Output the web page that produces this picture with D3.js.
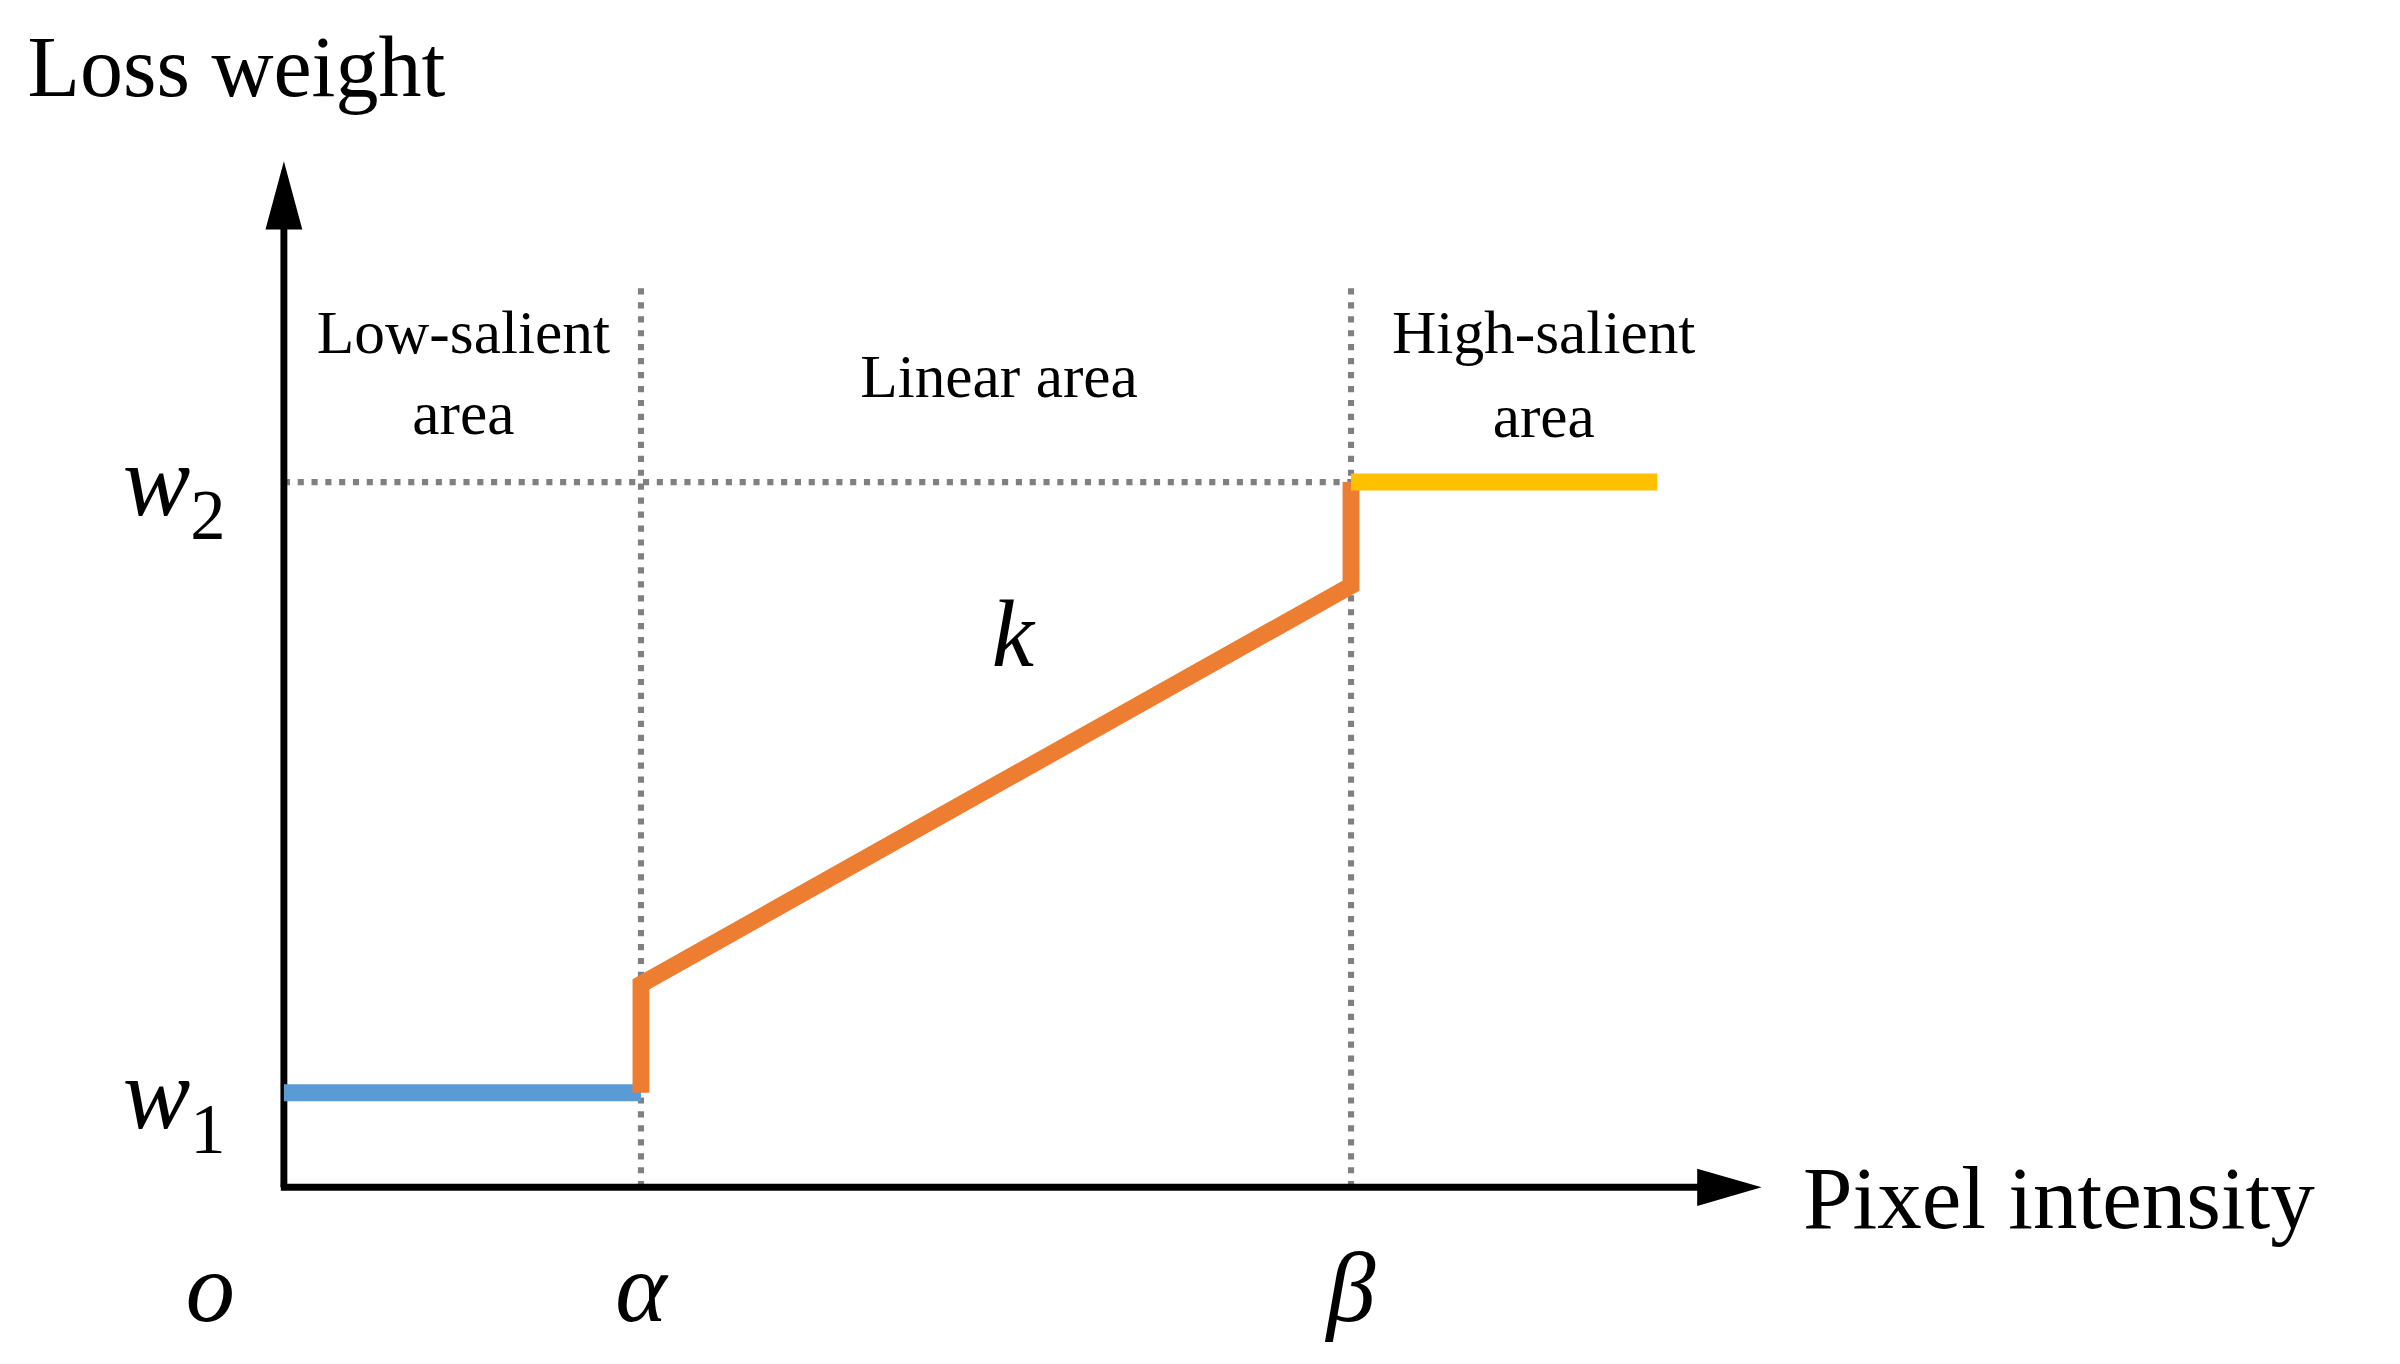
<!DOCTYPE html><html><head><script src="https://d3js.org/d3.v7.min.js"></script>
<style>body{margin:0;background:#fff}</style></head><body><script>
const xKeys=[0,0.26,0.777,1.0]; // o, alpha, beta, end
const w1=0.134, w2=1.0, kStart=0.288, kEnd=0.853;
const lowSeg=[[0,w1],[0.26,w1]];
const linSeg=[[0.26,w1],[0.26,kStart],[0.777,kEnd],[0.777,w2]];
const highSeg=[[0.777,w2],[1.0,w2]];
const tickLabels=["o","α","β"];
const svg=d3.select("body").append("svg").attr("width",2400).attr("height",1364)
 .attr("viewBox","0 0 1564 880").attr("preserveAspectRatio","none");
const x=d3.scaleLinear().domain([0,1]).range([185,1080]);
const y=d3.scaleLinear().domain([0,1]).range([766,311]);
const F="Liberation Serif, Times New Roman, serif";
const line=d3.line().x(d=>x(d[0])).y(d=>y(d[1]));
// dotted guides
[xKeys[1],xKeys[2]].forEach(v=>svg.append("line").attr("x1",x(v)).attr("x2",x(v)).attr("y1",186).attr("y2",766)
 .attr("stroke","#808080").attr("stroke-width",4).attr("stroke-dasharray","4,5"));
svg.append("line").attr("x1",x(0)).attr("x2",x(xKeys[2])).attr("y1",y(w2)).attr("y2",y(w2))
 .attr("stroke","#808080").attr("stroke-width",4).attr("stroke-dasharray","4,5");
// axes
svg.append("line").attr("x1",185).attr("x2",185).attr("y1",766).attr("y2",140).attr("stroke","#000").attr("stroke-width",4.5);
svg.append("path").attr("d","M185,104 L173,148 L197,148 Z");
svg.append("line").attr("x1",183).attr("x2",1110).attr("y1",766).attr("y2",766).attr("stroke","#000").attr("stroke-width",4.5);
svg.append("path").attr("d","M1148,766 L1106,754 L1106,778 Z");
// series
svg.append("path").attr("d",line(lowSeg)).attr("fill","none").attr("stroke","#5B9BD5").attr("stroke-width",11);
svg.append("path").attr("d",line(linSeg)).attr("fill","none").attr("stroke","#ED7D31").attr("stroke-width",11);
svg.append("path").attr("d",line(highSeg)).attr("fill","none").attr("stroke","#FFC000").attr("stroke-width",11);
function t(s,px,py,size,opt={}){const e=svg.append("text").attr("x",px).attr("y",py).attr("font-family",F).attr("font-size",size)
 .attr("text-anchor",opt.a||"start").attr("font-style",opt.i?"italic":"normal").text(s);return e;}
t("Loss weight",18,62,56);
t("Pixel intensity",1175,792,58);
t("Low-salient",302,228,40,{a:"middle"});t("area",302,280,40,{a:"middle"});
t("Linear area",651,256,40,{a:"middle"});
t("High-salient",1006,228,40,{a:"middle"});t("area",1006,282,40,{a:"middle"});
t("k",660,430,62,{a:"middle",i:true});
const wl=(sub,py)=>{const e=t("w",80,py,66,{i:true});e.append("tspan").attr("font-style","normal").attr("font-size",46).attr("dy",16).text(sub);};
wl("2",332);wl("1",728);
tickLabels.forEach((s,i)=>t(s,i==0?137:x(xKeys[i]),852,64,{a:"middle",i:true}));
</script></body></html>
